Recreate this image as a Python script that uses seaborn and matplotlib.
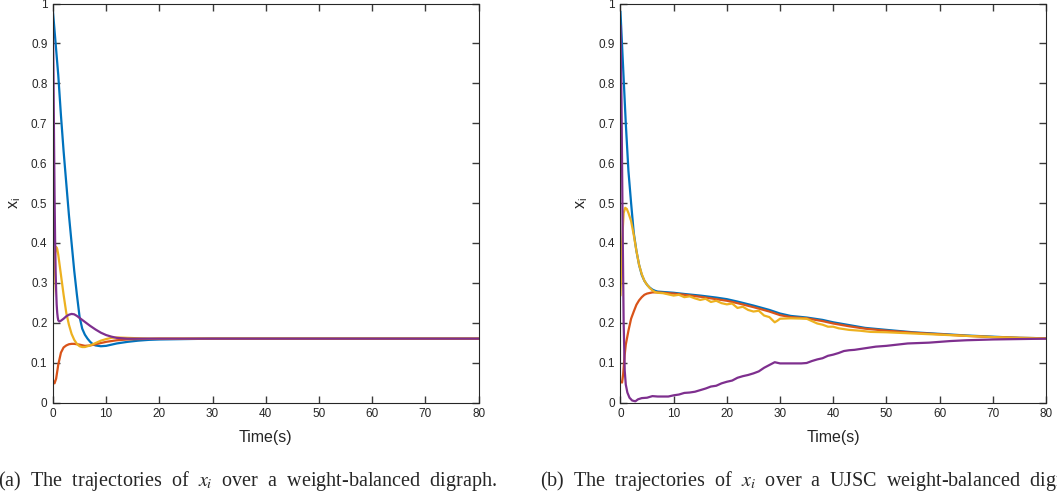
import numpy as np
import pandas as pd
import seaborn as sns
import matplotlib.pyplot as plt

# ---- (a) weight-balanced digraph ----
t_a_blue = [0, 0.5, 1, 1.5, 2, 2.5, 3, 3.5, 4, 4.5, 5, 5.5, 6, 6.5, 7, 7.5, 8, 9, 10, 11, 12, 14, 16, 18, 20, 25, 30, 40, 50, 60, 70, 80]
x_a_blue = [0.98, 0.90, 0.82, 0.72, 0.63, 0.55, 0.47, 0.40, 0.33, 0.27, 0.215, 0.185, 0.17, 0.16, 0.152, 0.146, 0.143, 0.141, 0.142, 0.145, 0.148, 0.152, 0.155, 0.157, 0.158, 0.159, 0.16, 0.16, 0.16, 0.16, 0.16, 0.16]

t_a_orange = [0, 0.3, 0.6, 1, 1.5, 2, 2.5, 3, 3.5, 4, 5, 6, 7, 8, 10, 12, 14, 16, 20, 30, 40, 50, 60, 70, 80]
x_a_orange = [0.055, 0.048, 0.06, 0.095, 0.125, 0.138, 0.143, 0.146, 0.147, 0.147, 0.145, 0.142, 0.143, 0.146, 0.152, 0.156, 0.158, 0.159, 0.16, 0.16, 0.16, 0.16, 0.16, 0.16, 0.16]

t_a_yellow = [0, 0.2, 0.4, 0.6, 0.8, 1, 1.5, 2, 2.5, 3, 3.5, 4, 4.5, 5, 5.5, 6, 7, 8, 9, 10, 11, 12, 14, 16, 18, 30, 40, 50, 60, 70, 80]
x_a_yellow = [0.265, 0.33, 0.375, 0.39, 0.385, 0.37, 0.32, 0.27, 0.225, 0.195, 0.172, 0.157, 0.147, 0.141, 0.139, 0.139, 0.143, 0.149, 0.155, 0.159, 0.162, 0.163, 0.162, 0.161, 0.16, 0.16, 0.16, 0.16, 0.16, 0.16, 0.16]

t_a_purple = [0, 0.1, 0.2, 0.3, 0.4, 0.5, 0.6, 0.7, 0.8, 0.9, 1.0, 1.2, 1.5, 2, 2.5, 3, 3.5, 4, 4.5, 5, 6, 7, 8, 9, 10, 11, 12, 14, 16, 30, 40, 50, 60, 70, 80]
x_a_purple = [0.94, 0.82, 0.66, 0.52, 0.41, 0.33, 0.28, 0.245, 0.225, 0.213, 0.206, 0.203, 0.205, 0.21, 0.216, 0.22, 0.222, 0.221, 0.217, 0.212, 0.202, 0.192, 0.183, 0.175, 0.169, 0.165, 0.162, 0.16, 0.16, 0.16, 0.16, 0.16, 0.16, 0.16, 0.16]

# ---- (b) UJSC weight-balanced digraph ----
t_b_blue = [0, 0.5, 1, 1.5, 2, 2.5, 3, 3.5, 4, 4.5, 5, 5.5, 6, 6.5, 7, 8, 10, 12, 15, 18, 20, 22, 25, 28, 30, 32, 35, 38, 40, 43, 46, 50, 55, 60, 65, 70, 75, 80]
x_b_blue = [0.98, 0.84, 0.70, 0.58, 0.50, 0.425, 0.38, 0.345, 0.32, 0.305, 0.295, 0.288, 0.283, 0.28, 0.278, 0.277, 0.275, 0.272, 0.268, 0.263, 0.259, 0.253, 0.243, 0.232, 0.223, 0.217, 0.213, 0.207, 0.201, 0.194, 0.187, 0.182, 0.176, 0.172, 0.168, 0.165, 0.162, 0.161]

t_b_orange = [0, 0.3, 0.5, 0.8, 1, 1.5, 2, 2.5, 3, 3.5, 4, 4.5, 5, 6, 7, 8, 10, 12, 15, 18, 20, 22, 25, 28, 30, 32, 35, 38, 40, 43, 46, 50, 55, 60, 65, 70, 75, 80]
x_b_orange = [0.052, 0.05, 0.07, 0.12, 0.145, 0.18, 0.21, 0.228, 0.245, 0.256, 0.264, 0.27, 0.273, 0.276, 0.276, 0.275, 0.273, 0.27, 0.265, 0.259, 0.255, 0.249, 0.239, 0.228, 0.219, 0.214, 0.211, 0.204, 0.198, 0.191, 0.185, 0.18, 0.175, 0.171, 0.167, 0.164, 0.162, 0.161]

t_b_yellow = [0, 0.3, 0.6, 0.9, 1.2, 1.5, 2, 2.5, 3, 3.5, 4, 4.5, 5, 5.5, 6, 6.5, 7, 8, 9, 10, 11, 12, 13, 14, 15, 16, 17, 18, 19, 20, 21, 22, 23, 24, 25, 26, 27, 28, 29, 29.5, 30, 32, 35, 36, 37, 38, 39, 40, 41, 42, 43, 45, 47, 50, 55, 60, 65, 70, 75, 80]
x_b_yellow = [0.268, 0.40, 0.475, 0.488, 0.485, 0.475, 0.455, 0.42, 0.38, 0.345, 0.322, 0.305, 0.295, 0.287, 0.281, 0.277, 0.275, 0.274, 0.271, 0.268, 0.270, 0.264, 0.266, 0.261, 0.257, 0.260, 0.252, 0.255, 0.249, 0.246, 0.248, 0.237, 0.240, 0.232, 0.228, 0.230, 0.218, 0.214, 0.201, 0.205, 0.210, 0.211, 0.210, 0.204, 0.198, 0.195, 0.190, 0.190, 0.186, 0.184, 0.182, 0.180, 0.177, 0.176, 0.173, 0.170, 0.167, 0.164, 0.162, 0.161]

t_b_purple = [0, 0.2, 0.4, 0.6, 0.8, 1.0, 1.3, 1.7, 2.2, 2.8, 3.3, 4, 5, 6, 7, 8, 9, 10, 11, 12, 13, 14, 15, 16, 17, 18, 19, 20, 21, 22, 23, 24, 25, 26, 27, 28, 29, 30, 32, 34, 35, 36, 37, 38, 39, 40, 41, 42, 43, 44, 46, 48, 50, 52, 54, 56, 58, 60, 62, 65, 70, 75, 80]
x_b_purple = [0.945, 0.75, 0.45, 0.20, 0.08, 0.045, 0.025, 0.012, 0.005, 0.003, 0.008, 0.011, 0.012, 0.016, 0.015, 0.015, 0.015, 0.018, 0.02, 0.024, 0.025, 0.027, 0.031, 0.035, 0.04, 0.042, 0.048, 0.052, 0.055, 0.062, 0.066, 0.069, 0.073, 0.078, 0.087, 0.094, 0.101, 0.098, 0.098, 0.098, 0.099, 0.104, 0.108, 0.111, 0.117, 0.12, 0.124, 0.129, 0.131, 0.132, 0.136, 0.14, 0.142, 0.145, 0.148, 0.149, 0.15, 0.152, 0.154, 0.156, 0.158, 0.159, 0.16]

# MATLAB default line colours
colors = ["#0072BD", "#D95319", "#EDB120", "#7E2F8E"]
# double spaces imitate the justified LaTeX caption
captions = [r"(a)  The  trajectories  of  $x_i$  over  a  weight-balanced  digraph.",
            r"(b)  The  trajectories  of  $x_i$  over  a  UJSC  weight-balanced  digraph."]

sns.set_style("ticks")
plt.rcParams["font.family"] = ["Liberation Sans", "DejaVu Sans"]
plt.rcParams["mathtext.fontset"] = "stix"

fig = plt.figure(figsize=(10.57, 5.01), dpi=100)
ax_a = fig.add_axes([0.0501, 0.1966, 0.4027, 0.7964])
ax_b = fig.add_axes([0.5870, 0.1966, 0.4026, 0.7964])

series = [
    [(t_a_blue, x_a_blue), (t_a_orange, x_a_orange), (t_a_yellow, x_a_yellow), (t_a_purple, x_a_purple)],
    [(t_b_blue, x_b_blue), (t_b_orange, x_b_orange), (t_b_yellow, x_b_yellow), (t_b_purple, x_b_purple)],
]

for ax, lines in zip([ax_a, ax_b], series):
    for (t, x), c in zip(lines, colors):
        sns.lineplot(x=t, y=x, color=c, linewidth=1.6, ax=ax, sort=False)
    ax.set_xlim(0, 80)
    ax.set_ylim(0, 1)
    ax.set_xticks(np.arange(0, 81, 10))
    ax.set_yticks(np.arange(0, 1.01, 0.1))
    ax.set_yticklabels(["0", "0.1", "0.2", "0.3", "0.4", "0.5", "0.6", "0.7", "0.8", "0.9", "1"])
    ax.tick_params(axis="both", direction="in", length=5, width=1.0, bottom=True, left=True,
                   top=True, right=True, labelsize=8.5, color="#3a3a3a",
                   labelcolor="#262626", pad=4)
    for sp in ax.spines.values():
        sp.set_visible(True)
        sp.set_color("#262626")
        sp.set_linewidth(0.8)
    ax.set_xlabel("Time(s)", fontsize=11.5, color="#262626", labelpad=7)
    ax.set_ylabel(r"x$_\mathregular{i}$", fontsize=11.5, color="#262626", labelpad=6)

fig.text(-0.002, 0.04, captions[0], family="Liberation Serif", fontsize=14.5,
         ha="left", va="center")
fig.text(0.511, 0.04, captions[1], family="Liberation Serif", fontsize=14.5,
         ha="left", va="center")

fig.savefig("out.png", dpi=100)
plt.close(fig)
